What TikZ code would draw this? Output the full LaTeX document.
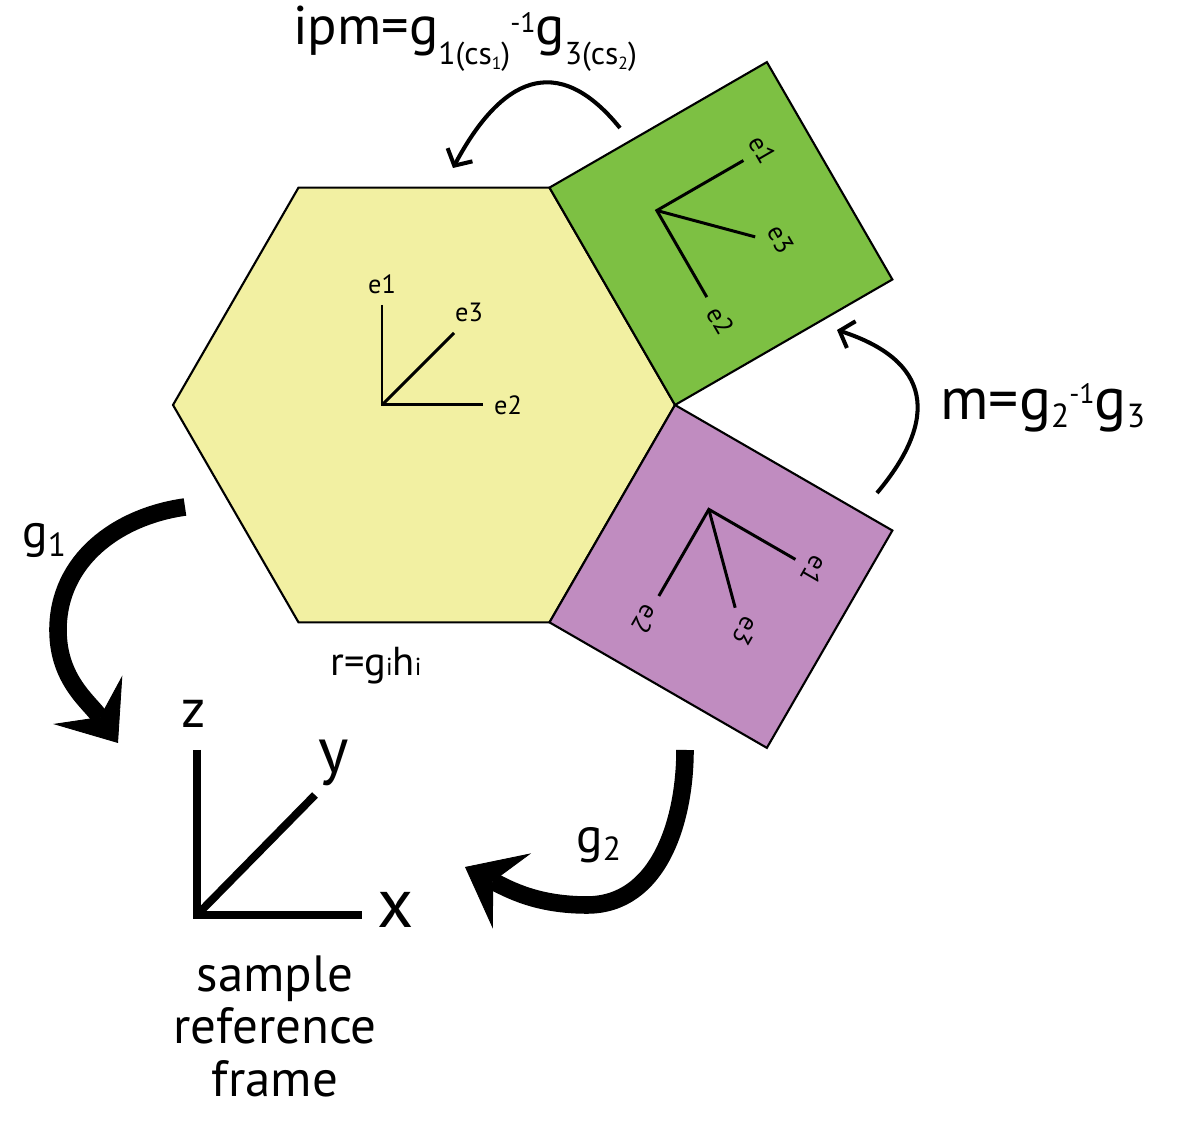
\documentclass[tikz,border=0pt]{standalone}
\usepackage{fontspec}
\setmainfont{PT Sans}
\usetikzlibrary{arrows.meta,calc,positioning}

\definecolor{hexfill}{RGB}{242,240,162}
\definecolor{greenfill}{RGB}{125,192,67}
\definecolor{purplefill}{RGB}{192,140,192}

% raised or lowered piece of text: shift, size, text
\newcommand{\shiftedtext}[3]{\raisebox{#1}{\fontsize{#2}{#2}\selectfont #3}}

\tikzset{
  grain/.style={draw=black, line width=1.2pt, line join=miter},
  axisline/.style={line width=1.7pt},
  elabel/.style={inner sep=0pt, font=\fontsize{15}{17}\selectfont},
  thinarrow/.style={line width=2.3pt, -{Straight Barb[length=7pt,width=16pt]}},
  bigarrow/.style={line width=10pt, -{Stealth[length=30pt,width=48pt,inset=12pt,line width=0.5pt]}},
  textlabel/.style={inner sep=0pt, anchor=base west}
}

\begin{document}
\begin{tikzpicture}[x=0.02cm, y=0.02cm]
  \useasboundingbox (0,0) rectangle (1191,1139);

  % hexagonal grain
  \coordinate (hexc) at (424,734);
  \foreach \i in {0,...,5}
    \coordinate (h\i) at ($(hexc)+(60*\i:251)$);
  \draw[grain, fill=hexfill] (h0) -- (h1) -- (h2) -- (h3) -- (h4) -- (h5) -- cycle;

  % neighbour grains
  \coordinate (grn1) at ($(h0)!1!-90:(h1)$);
  \coordinate (grn2) at ($(h1)!1!90:(h0)$);
  \coordinate (grnc) at ($(h0)!0.5!(grn2)$);
  \draw[grain, fill=greenfill] (h0) -- (grn1) -- (grn2) -- (h1) -- cycle;
  \coordinate (pur1) at ($(h0)!1!90:(h5)$);
  \coordinate (pur2) at ($(h5)!1!-90:(h0)$);
  \coordinate (purc) at ($(h0)!0.5!(pur2)$);
  \draw[grain, fill=purplefill] (h0) -- (pur1) -- (pur2) -- (h5) -- cycle;

  % crystal axes
  \begin{scope}[shift={(hexc)}, transform shape]
    \coordinate (ho) at (-42,0);
    \draw[axisline] (-42,100) -- (ho) -- (59,0);
    \draw[axisline] (ho) -- (30,72);
    \node[elabel] (he1) at (-42,121) {e1};
    \node[elabel] (he2) at (84,0) {e2};
    \node[elabel] (he3) at (45,93) {e3};
  \end{scope}
  \begin{scope}[shift={(grnc)}, rotate=-60, transform shape]
    \coordinate (go) at (-52,-44);
    \draw[axisline] (-52,56) -- (go) -- (48,-44);
    \draw[axisline] (go) -- (20,28);
    \node[elabel] (ge1) at (-52,78) {e1};
    \node[elabel] (ge2) at (75,-44) {e2};
    \node[elabel] (ge3) at (35,49) {e3};
  \end{scope}
  \begin{scope}[shift={(purc)}, rotate=-120, transform shape]
    \coordinate (po) at (-52,-44);
    \draw[axisline] (-52,56) -- (po) -- (48,-44);
    \draw[axisline] (po) -- (20,28);
    \node[elabel] (pe1) at (-52,78) {e1};
    \node[elabel] (pe2) at (75,-44) {e2};
    \node[elabel] (pe3) at (35,49) {e3};
  \end{scope}

  % sample reference frame
  \coordinate (so) at (197,224);
  \coordinate (sz) at (197,389);
  \coordinate (sx) at (362,224);
  \coordinate (sy) at (315,344);
  \draw[line width=5pt] (sz) -- (so) -- (sx);
  \draw[line width=4.5pt] (so) -- (sy);
  \node[inner sep=0pt, anchor=base, font=\fontsize{31}{36}\selectfont] (zlab) at (194,411) {z};
  \node[inner sep=0pt, anchor=base, font=\fontsize{37}{42}\selectfont] (ylab) at (334,366) {y};
  \node[inner sep=0pt, anchor=base, font=\fontsize{40}{46}\selectfont] (xlab) at (396,211) {x};
  \node[inner sep=0pt, anchor=north, align=center, font=\fontsize{29}{30}\selectfont] (srf) at (275,184) {sample\\reference\\frame};

  % labels
  \node[textlabel, font=\fontsize{31}{36}\selectfont] (ipm) at (293,1094)
    {ipm=g\shiftedtext{-11pt}{18}{1(cs\shiftedtext{-3pt}{10}{1})}\shiftedtext{7pt}{16}{-1}g\shiftedtext{-11pt}{18}{3(cs\shiftedtext{-3pt}{10}{2})}};
  \node[textlabel, font=\fontsize{34}{40}\selectfont] (mlab) at (940,719)
    {m=g\shiftedtext{-4.5pt}{19}{2}\shiftedtext{9.5pt}{16}{-1}g\shiftedtext{-4.5pt}{19}{3}};
  \node[textlabel, font=\fontsize{27}{31}\selectfont] (g1lab) at (22,591) {g\shiftedtext{-5pt}{19}{1}};
  \node[textlabel, font=\fontsize{28}{32}\selectfont] (g2lab) at (576,286) {g\shiftedtext{-4pt}{19}{2}};
  \node[textlabel, font=\fontsize{23}{27}\selectfont] (rlab) at (330,463) {r=g\shiftedtext{0pt}{14}{i}h\shiftedtext{0pt}{14}{i}};

  % rotations
  \coordinate (ipms) at (620,1011);
  \coordinate (ipme) at (453,971);
  \draw[thinarrow] (ipms) to[out=129, in=62, looseness=1.5] (ipme);
  \coordinate (ms) at (877,646);
  \coordinate (me) at (837,809);
  \draw[thinarrow] (ms) to[out=50, in=-18, looseness=1.5] (me);
  \coordinate (g1s) at (185,632);
  \coordinate (g1m) at (58,509);
  \coordinate (g1e) at (118,396);
  \draw[bigarrow] (g1s) to[out=188, in=90] (g1m) to[out=-90, in=125] (g1e);
  \coordinate (g2s) at (685,389);
  \coordinate (g2m) at (587,234);
  \coordinate (g2e) at (465,272);
  \draw[bigarrow] (g2s) to[out=-90, in=0] (g2m) to[out=180, in=-27] (g2e);
\end{tikzpicture}
\end{document}
